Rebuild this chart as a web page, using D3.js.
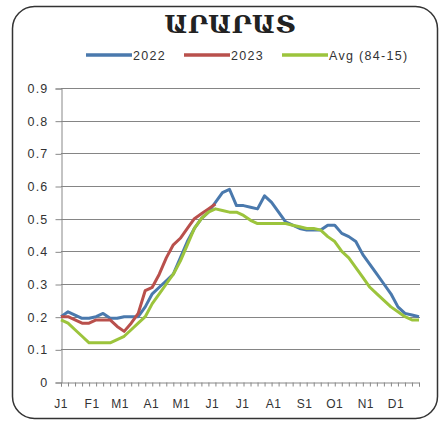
<!DOCTYPE html>
<html>
<head>
<meta charset="utf-8">
<script src="https://cdn.jsdelivr.net/npm/d3@7"></script>
<style>
  body { margin: 0; background: #fff; }
  svg { display: block; font-family: "Liberation Sans", Arial, sans-serif; }
</style>
</head>
<body>
<svg id="chart" width="445" height="423"></svg>
<script>
// weekly values, 52 weeks
var v2022 = [0.20, 0.215, 0.205, 0.195, 0.195, 0.20, 0.21, 0.195, 0.195, 0.20,
             0.20, 0.20, 0.23, 0.27, 0.29, 0.31, 0.33, 0.38, 0.43, 0.47,
             0.50, 0.52, 0.55, 0.58, 0.59, 0.54, 0.54, 0.535, 0.53, 0.57,
             0.55, 0.52, 0.49, 0.48, 0.47, 0.465, 0.465, 0.465, 0.48, 0.48,
             0.455, 0.445, 0.43, 0.39, 0.36, 0.33, 0.30, 0.27, 0.23, 0.21,
             0.205, 0.20];
var v2023 = [0.20, 0.20, 0.19, 0.18, 0.18, 0.19, 0.19, 0.19, 0.17, 0.155,
             0.18, 0.21, 0.28, 0.29, 0.33, 0.38, 0.42, 0.44, 0.47, 0.50,
             0.515, 0.53, 0.545];
var vAvg = [0.19, 0.18, 0.16, 0.14, 0.12, 0.12, 0.12, 0.12, 0.13, 0.14,
            0.16, 0.18, 0.20, 0.24, 0.27, 0.30, 0.33, 0.37, 0.42, 0.47,
            0.50, 0.52, 0.53, 0.525, 0.52, 0.52, 0.51, 0.495, 0.485, 0.485,
            0.485, 0.485, 0.485, 0.48, 0.475, 0.47, 0.47, 0.465, 0.445, 0.43,
            0.40, 0.38, 0.35, 0.32, 0.29, 0.27, 0.25, 0.23, 0.215, 0.20,
            0.19, 0.19];

var monthLabels = ["J1", "F1", "M1", "A1", "M1", "J1", "J1", "A1", "S1", "O1", "N1", "D1"];
var monthDays = [0, 31, 59, 90, 120, 151, 181, 212, 243, 273, 304, 334];
var yTicks = [0, 0.1, 0.2, 0.3, 0.4, 0.5, 0.6, 0.7, 0.8, 0.9];

var series = [
  { name: "2022", values: v2022, color: "#4a79ad" },
  { name: "2023", values: v2023, color: "#b9504c" },
  { name: "Avg (84-15)", values: vAvg, color: "#9cc43c" }
];

var svg = d3.select("#chart");

// rounded frame
svg.append("rect")
  .attr("x", 12.5).attr("y", 6.5)
  .attr("width", 425).attr("height", 412)
  .attr("rx", 22).attr("ry", 22)
  .attr("fill", "#fff")
  .attr("stroke", "#333").attr("stroke-width", 1.5);

var x = d3.scaleLinear().domain([0, 51]).range([61, 419]);
var y = d3.scaleLinear().domain([0, 0.9]).range([382, 88]);

// title
svg.append("text")
  .attr("x", 230).attr("y", 33)
  .attr("text-anchor", "middle")
  .attr("font-family", "'DejaVu Serif', serif")
  .attr("font-size", 25)
  .attr("font-weight", "bold")
  .attr("fill", "#222")
  .text("ԱՐԱՐԱՏ");

// gridlines
svg.append("g")
  .selectAll("line")
  .data(yTicks.slice(1))
  .enter().append("line")
    .attr("x1", x(0)).attr("x2", x(51) + 1)
    .attr("y1", function(d) { return Math.round(y(d)) + 0.5; })
    .attr("y2", function(d) { return Math.round(y(d)) + 0.5; })
    .attr("stroke", "#858585").attr("stroke-width", 1);

// y axis
var yAxis = svg.append("g")
  .attr("transform", "translate(" + (x(0) + 0.5) + ",0.5)")
  .call(d3.axisLeft(y).tickValues(yTicks).tickSize(6).tickPadding(7)
    .tickFormat(function(d) { return d === 0 ? "0" : d3.format(".1f")(d); }));
yAxis.select(".domain").attr("stroke", "#888");
yAxis.selectAll(".tick line").attr("stroke", "#888");
yAxis.selectAll("text").attr("font-size", 12.5).attr("fill", "#333")
  .attr("letter-spacing", "1.2px")
  .attr("font-family", "'Liberation Sans', Arial, sans-serif");

// x axis with weekly ticks
var xAxis = svg.append("g")
  .attr("transform", "translate(0," + (y(0) + 0.5) + ")")
  .call(d3.axisBottom(x).tickValues(d3.range(0, 52)).tickSize(4).tickFormat(""));
xAxis.select(".domain").attr("stroke", "#888");
xAxis.selectAll(".tick line").attr("stroke", "#888");

svg.append("g")
  .selectAll("text")
  .data(monthLabels)
  .enter().append("text")
    .attr("x", function(d, i) { return x(monthDays[i] / 7); })
    .attr("y", 408)
    .attr("text-anchor", "middle")
    .attr("font-size", 12)
    .attr("letter-spacing", "0.5px")
    .attr("fill", "#333")
    .text(function(d) { return d; });

// lines
var line = d3.line()
  .x(function(d, i) { return x(i); })
  .y(function(d) { return y(d); });

svg.append("g")
  .selectAll("path")
  .data(series)
  .enter().append("path")
    .attr("d", function(d) { return line(d.values); })
    .attr("fill", "none")
    .attr("stroke", function(d) { return d.color; })
    .attr("stroke-width", 3)
    .attr("stroke-linejoin", "round");

// legend
var legendX = [86, 184, 282];
var legend = svg.append("g")
  .selectAll("g")
  .data(series)
  .enter().append("g")
    .attr("transform", function(d, i) { return "translate(" + legendX[i] + ",55)"; });
legend.append("line")
  .attr("x1", 0).attr("x2", 46)
  .attr("stroke", function(d) { return d.color; })
  .attr("stroke-width", 3.5);
legend.append("text")
  .attr("x", 47).attr("y", 4.5)
  .attr("font-size", 12.5)
  .attr("letter-spacing", "1.3px")
  .attr("fill", "#333")
  .text(function(d) { return d.name; });
</script>
</body>
</html>
